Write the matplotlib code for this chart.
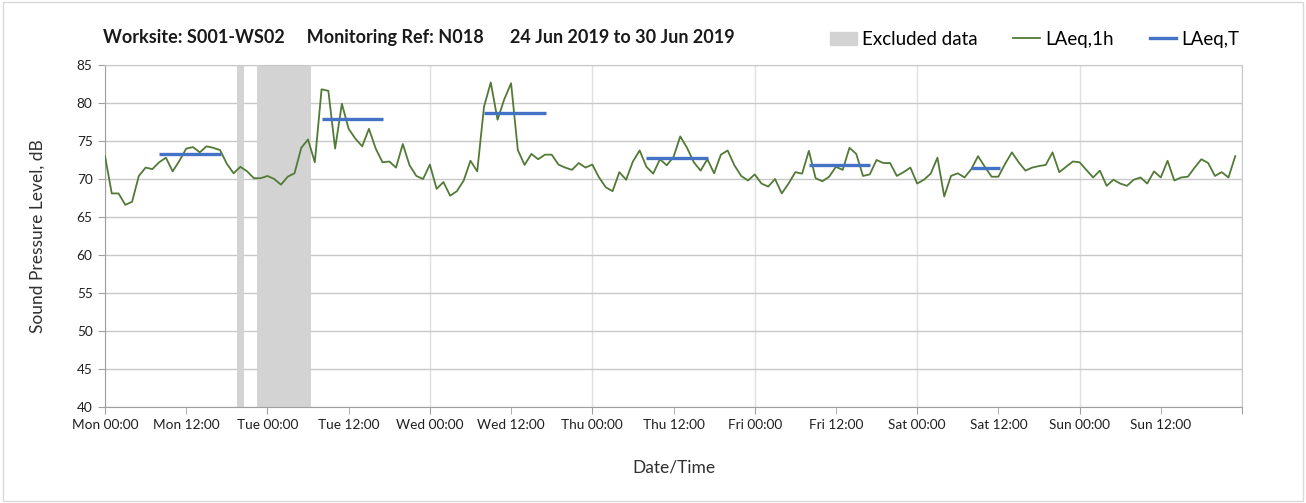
import numpy as np
import matplotlib
matplotlib.use("Agg")
import matplotlib.pyplot as plt
from matplotlib.patches import Rectangle, Patch
from matplotlib.lines import Line2D

plt.rcParams['font.family'] = ['Lato', 'DejaVu Sans']

# hourly LAeq,1h values, Mon 00:00 .. Sun 23:00
laeq_1h = np.array([
    73.0, 68.1, 68.1, 66.6, 67.0, 70.4, 71.5, 71.3, 72.2, 72.8, 71.0, 72.4,
    74.0, 74.2, 73.5, 74.3, 74.1, 73.8, 72.0, 70.75, 71.6, 71.0, 70.1, 70.1,
    70.4, 70.0, 69.25, 70.3, 70.75, 74.1, 75.2, 72.2, 81.8, 81.6, 74.0, 79.9,
    76.6, 75.3, 74.3, 76.6, 74.0, 72.2, 72.3, 71.5, 74.6, 71.8, 70.4, 70.0,
    71.9, 68.7, 69.6, 67.8, 68.4, 69.8, 72.4, 71.0, 79.5, 82.7, 77.8, 80.5,
    82.6, 73.8, 71.85, 73.3, 72.6, 73.2, 73.2, 71.9, 71.5, 71.2, 72.1, 71.5,
    71.9, 70.2, 68.9, 68.4, 70.9, 69.9, 72.3, 73.75, 71.6, 70.7, 72.6, 71.8,
    72.9, 75.6, 74.1, 72.2, 71.1, 72.6, 70.75, 73.2, 73.75, 71.8, 70.4, 69.8,
    70.6, 69.4, 69.0, 70.0, 68.1, 69.4, 70.9, 70.7, 73.7, 70.1, 69.7, 70.3,
    71.6, 71.2, 74.1, 73.3, 70.4, 70.6, 72.5, 72.1, 72.1, 70.4, 70.9, 71.5,
    69.4, 69.9, 70.7, 72.8, 67.7, 70.4, 70.75, 70.2, 71.3, 73.0, 71.6, 70.3,
    70.3, 72.0, 73.5, 72.2, 71.1, 71.5, 71.7, 71.85, 73.5, 70.9, 71.6, 72.3,
    72.2, 71.2, 70.2, 71.1, 69.1, 69.9, 69.4, 69.1, 69.9, 70.2, 69.4, 71.0,
    70.2, 72.4, 69.8, 70.2, 70.3, 71.5, 72.6, 72.1, 70.4, 70.9, 70.2, 73.0])
hours = np.arange(len(laeq_1h))

# LAeq,T over the working period of each day
laeq_t = [73.35, 77.9, 78.7, 72.8, 71.8, 71.5]
t_start = [8, 32, 56, 80, 104, 128]
t_end = [17.1, 41.1, 65.1, 89.1, 113.1, 132.2]

# hours with excluded data
excluded = [20, 23, 24, 25, 26, 27, 28, 29, 30]

days = ["Mon", "Tue", "Wed", "Thu", "Fri", "Sat", "Sun"]

green = "#527a36"
blue = "#4472c4"
grey = "#d3d3d3"

fig = plt.figure(figsize=(13.06, 5.03), dpi=100)
ax = fig.add_axes([0.0804, 0.1909, 0.8706, 0.6799])

ax.bar(excluded, [45] * len(excluded), width=1.0, bottom=40, color=grey, zorder=1)
ax.plot(hours, laeq_1h, color=green, lw=1.3, zorder=3)
ax.hlines(laeq_t, t_start, t_end, color=blue, lw=2.4, zorder=4)

ax.set_xlim(0, 168)
ax.set_ylim(40, 85)
ax.set_yticks(np.arange(40, 86, 5))

ax.set_xticks(np.arange(0, 169, 24))
ax.set_xticklabels([d + " 00:00" for d in days] + [""])
ax.set_xticks(np.arange(12, 168, 24), minor=True)
ax.set_xticklabels([d + " 12:00" for d in days], minor=True)

ax.grid(axis="y", color="#c8c8c8", lw=1.0, zorder=0)
ax.grid(axis="x", which="major", color="#e0e0e0", lw=1.0, zorder=0)
ax.set_axisbelow(True)

ax.tick_params(axis="both", which="both", direction="out", length=5, color="#a0a0a0",
               labelsize=9.8, labelcolor="#202020", pad=4)
for s in ["top", "right"]:
    ax.spines[s].set_color("#c8c8c8")
for s in ["left", "bottom"]:
    ax.spines[s].set_color("#a0a0a0")

ax.set_ylabel("Sound Pressure Level, dB", fontsize=12.5, color="#303030", labelpad=22)
ax.set_xlabel("Date/Time", fontsize=12.5, color="#303030", labelpad=20)

fig.text(0.079, 0.925, "Worksite: S001-WS02     Monitoring Ref: N018      24 Jun 2019 to 30 Jun 2019",
         fontsize=13, fontweight="bold", color="#1a1a1a", va="center")

handles = [Patch(color=grey), Line2D([], [], color=green, lw=1.3), Line2D([], [], color=blue, lw=2.4)]
fig.legend(handles, ["Excluded data", "LAeq,1h", "LAeq,T"], loc="center right",
           bbox_to_anchor=(0.962, 0.922), ncol=3, frameon=False, fontsize=13.5,
           handlelength=1.4, handletextpad=0.3, columnspacing=1.9)

# light frame round the whole chart
fig.patches.append(Rectangle((0.002, 0.003), 0.996, 0.994, transform=fig.transFigure,
                             fill=False, edgecolor="#d9d9d9", lw=1.0))

plt.savefig("out.png", dpi=100)
